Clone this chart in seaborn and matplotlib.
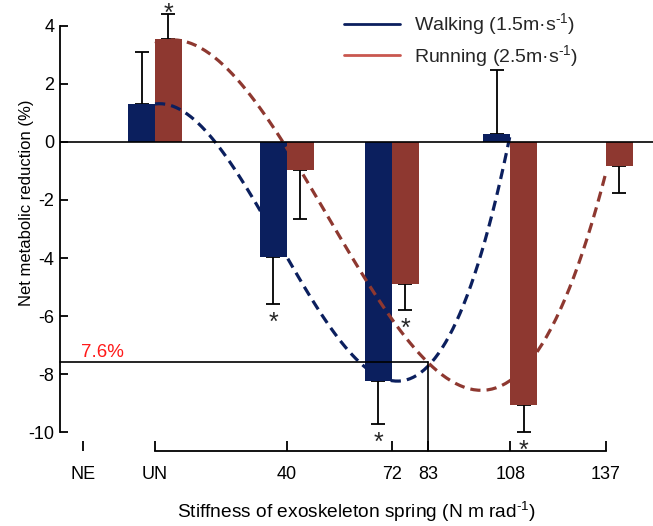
import numpy as np
import pandas as pd
import matplotlib
matplotlib.use("Agg")
import matplotlib.pyplot as plt
from matplotlib.lines import Line2D
import seaborn as sns

# Spring stiffness (N m rad^-1); 0 stands for the unpowered exoskeleton (UN)
walk_stiffness = [0, 40, 72, 108]
walk_mean = [1.31, -3.95, -8.23, 0.27]
walk_sd = [1.79, 1.65, 1.50, 2.20]
walk_sig = [False, True, True, False]

run_stiffness = [0, 40, 72, 108, 137]
run_mean = [3.55, -0.97, -4.90, -9.07, -0.82]
run_sd = [0.88, 1.67, 0.89, 0.93, 0.95]
run_sig = [True, False, True, True, False]

tick_pos = [-22, 0, 40, 72, 83, 108, 137]
tick_lab = ["NE", "UN", "40", "72", "83", "108", "137"]

opt_stiffness = 83
opt_reduction = 7.6

SUP = "$^{\\text{-1}}$"
walk_label = "Walking (1.5m·s" + SUP + ")"
run_label = "Running (2.5m·s" + SUP + ")"
x_label = "Stiffness of exoskeleton spring (N m rad" + SUP + ")"

NAVY = "#0b1f5e"
BROWN = "#8e3830"
LEG_RED = "#c9574f"
RED = "#ff1a1a"

sns.set_theme(style="white")
plt.rcParams["font.family"] = ["Liberation Sans", "DejaVu Sans"]
plt.rcParams["mathtext.fontset"] = "custom"
plt.rcParams["mathtext.rm"] = "Liberation Sans"
plt.rcParams["mathtext.it"] = "Liberation Sans"
plt.rcParams["axes.unicode_minus"] = False

W, H = 653, 526
fig = plt.figure(figsize=(W / 100, H / 100), dpi=100)
ax = fig.add_axes([60 / W, 75 / H, 593 / W, 446 / H])

df = pd.DataFrame({
    "stiffness": walk_stiffness + run_stiffness,
    "value": walk_mean + run_mean,
    "gait": ["Walking"] * len(walk_mean) + ["Running"] * len(run_mean),
})

sns.barplot(data=df, x="stiffness", y="value", hue="gait",
            hue_order=["Walking", "Running"],
            palette={"Walking": NAVY, "Running": BROWN},
            native_scale=True, width=16.4 / 29, saturation=1,
            linewidth=0, errorbar=None, legend=False, ax=ax, zorder=2)

half = 16.4 / 4
bar_x_walk = np.array(walk_stiffness) - half
bar_x_run = np.array(run_stiffness) + half

def one_sided(mean, sd):
    mean = np.asarray(mean)
    sd = np.asarray(sd)
    lower = np.where(mean < 0, sd, 0)
    upper = np.where(mean >= 0, sd, 0)
    return np.vstack([lower, upper])

for xs, m, s, sig in [(bar_x_walk, walk_mean, walk_sd, walk_sig),
                      (bar_x_run, run_mean, run_sd, run_sig)]:
    ax.errorbar(xs, m, yerr=one_sided(m, s), fmt="none", ecolor="black",
                elinewidth=1.3, capsize=4.7, capthick=1.3, zorder=1)
    for xi, mi, si, flag in zip(xs, m, s, sig):
        if not flag:
            continue
        if mi >= 0:
            ax.annotate("*", (xi, mi + si), xytext=(0, -5.6), textcoords="offset points",
                        ha="center", va="baseline", fontsize=18)
        else:
            ax.annotate("*", (xi, mi - si), xytext=(0, -18.6), textcoords="offset points",
                        ha="center", va="baseline", fontsize=18)

dash = (0, (3.2, 1.9))
sns.regplot(x=walk_stiffness, y=walk_mean, order=3, ci=None, scatter=False,
            truncate=True, ax=ax,
            line_kws=dict(color=NAVY, lw=2.3, ls=dash, zorder=3))
sns.regplot(x=run_stiffness, y=run_mean, order=3, ci=None, scatter=False,
            truncate=True, ax=ax,
            line_kws=dict(color=BROWN, lw=2.3, ls=dash, zorder=3))

ax.axhline(0, color="black", lw=1.2, zorder=4)

xlim = ((60 - 155) / 3.29, (653 - 155) / 3.29)
ylim = (-10.655, 4.724)
ax.set_xlim(xlim)
ax.set_ylim(ylim)

# optimum stiffness marker lines
ax.plot([xlim[0], opt_stiffness], [-opt_reduction, -opt_reduction],
        color="black", lw=1.2, zorder=4, clip_on=False)
ax.plot([opt_stiffness, opt_stiffness], [-opt_reduction, ylim[0]],
        color="black", lw=1.2, zorder=4, clip_on=False)
ax.text(-22.5, -opt_reduction + 0.2, f"{opt_reduction}%", color=RED,
        fontsize=13.5, ha="left", va="baseline")

for side in ["top", "right"]:
    ax.spines[side].set_visible(False)
ax.spines["left"].set_bounds(-10, 4)
ax.spines["bottom"].set_bounds(0, 137)
for side in ["left", "bottom"]:
    ax.spines[side].set_color("black")
    ax.spines[side].set_linewidth(1.3)

ax.set_yticks([4, 2, 0, -2, -4, -6, -8, -10])
ax.set_xticks(tick_pos)
ax.set_xticklabels(tick_lab)
for lab in ax.get_xticklabels():
    if lab.get_text() == str(opt_stiffness):
        lab.set_color(RED)
ax.tick_params(axis="y", direction="in", length=6, width=1.3, pad=4,
               labelsize=13, colors="black", left=True)
ax.tick_params(axis="x", direction="in", length=7, width=1.3, pad=11,
               labelsize=13, colors="black", bottom=True)

ax.set_xlabel(x_label, fontsize=13.8, labelpad=12, color="black")
ax.set_ylabel("Net metabolic reduction (%)", fontsize=12, color="black")
ax.yaxis.set_label_coords(-0.044, 0.556)

handles = [Line2D([], [], color=NAVY, lw=2),
           Line2D([], [], color=LEG_RED, lw=2)]
ax.legend(handles, [walk_label, run_label], loc="upper left",
          bbox_to_anchor=(266 / 593, 1.025), frameon=False, fontsize=14,
          handlelength=2.9, handletextpad=0.72, labelspacing=0.28)

fig.savefig("out.png", dpi=100)
